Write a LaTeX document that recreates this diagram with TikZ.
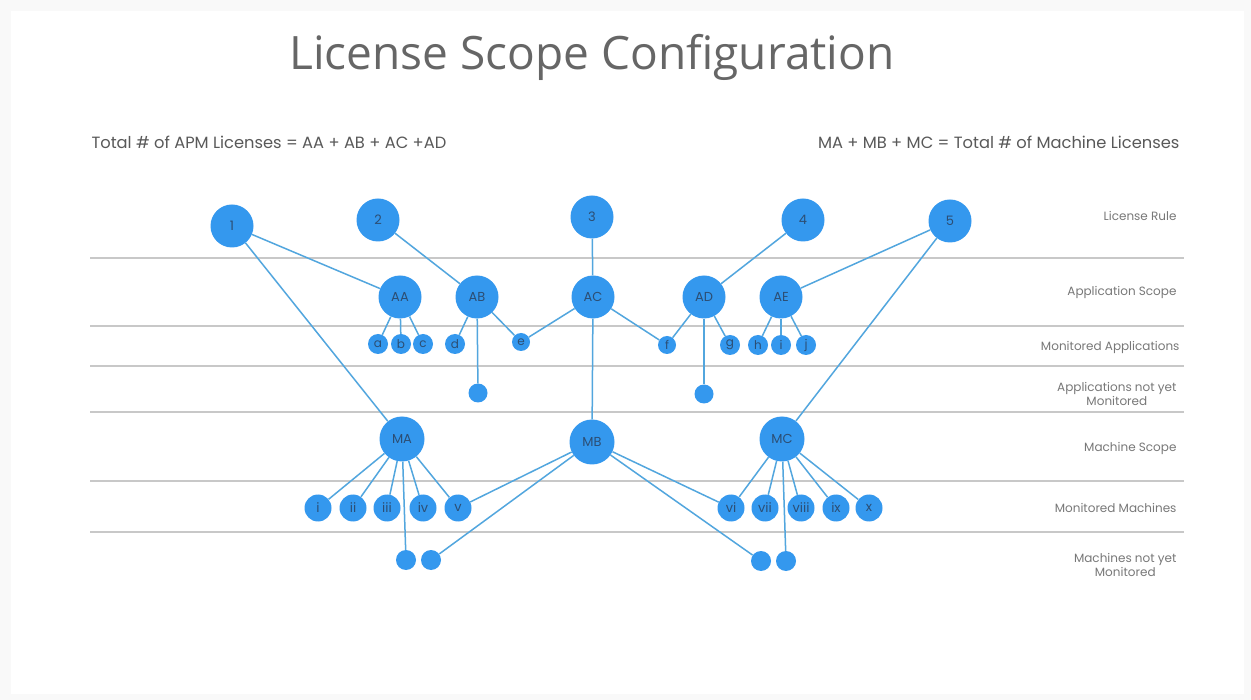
\documentclass[tikz,border=0pt]{standalone}
\usepackage{fontspec}
\setmainfont{Poppins}
\newfontfamily\titlefont{Open Sans}
\definecolor{nodeblue}{RGB}{52,152,238}
\definecolor{linkblue}{RGB}{82,166,222}
\definecolor{nodetext}{RGB}{44,78,116}
\definecolor{rowgray}{RGB}{200,200,200}
\definecolor{labelgray}{RGB}{120,120,120}
\newcommand{\px}[1]{\fontsize{#1}{#1}\selectfont}
\tikzset{
  blob/.style={circle,fill=nodeblue,inner sep=0pt,text=nodetext},
  rulenode/.style={blob,minimum size=43pt,font=\px{13}},
  scopenode/.style={blob,minimum size=43pt,font=\px{13}},
  appnode/.style={blob,minimum size=20pt,font=\px{12}},
  machnode/.style={blob,minimum size=27pt,font=\px{13}},
  waitnode/.style={blob,minimum size=20pt},
  link/.style={draw=linkblue,line width=1.5pt},
  rowlabel/.style={anchor=east,align=center,text=labelgray,font=\px{12}},
}
\begin{document}
\begin{tikzpicture}[x=1pt,y=-1pt]
\useasboundingbox (0,0) rectangle (1251,700);
\fill[gray!5] (0,0) rectangle (1251,700);
\fill[white] (11,11) rectangle (1244,694);
% title and totals
\node[text=black!60,font=\titlefont\px{46}] (title) at (592,57) {License Scope Configuration};
\node[anchor=west,text=black!65,font=\px{16.3}] (apmsum) at (88,142) {Total \# of APM Licenses = AA + AB + AC +AD};
\node[anchor=east,text=black!65,font=\px{16.3}] (machsum) at (1183,142) {MA + MB + MC = Total \# of Machine Licenses};
% rows
\draw[rowgray,line width=1.2pt] (90,258) -- (1184,258);
\draw[rowgray,line width=1.2pt] (90,326) -- (1184,326);
\draw[rowgray,line width=1.2pt] (90,366) -- (1184,366);
\draw[rowgray,line width=1.2pt] (90,412) -- (1184,412);
\draw[rowgray,line width=1.2pt] (90,481) -- (1184,481);
\draw[rowgray,line width=1.2pt] (90,532) -- (1184,532);
\node[rowlabel] (lrule) at (1180,216) {License Rule};
\node[rowlabel] (lappscope) at (1180,292) {Application Scope};
\node[rowlabel] (lmonapp) at (1183,347) {Monitored Applications};
\node[rowlabel] (lwaitapp) at (1180,394) {Applications not yet\\[1pt]Monitored};
\node[rowlabel] (lmachscope) at (1180,448) {Machine Scope};
\node[rowlabel] (lmonmach) at (1180,508) {Monitored Machines};
\node[rowlabel] (lwaitmach) at (1180,565) {Machines not yet\\[1pt]Monitored};
% license rules
\node[rulenode] (r1) at (232,226) {1};
\node[rulenode] (r2) at (378,220) {2};
\node[rulenode] (r3) at (592,217) {3};
\node[rulenode] (r4) at (803,220) {4};
\node[rulenode] (r5) at (950,221) {5};
% application scopes
\node[scopenode] (AA) at (400,297) {AA};
\node[scopenode] (AB) at (477,297) {AB};
\node[scopenode] (AC) at (593,297) {AC};
\node[scopenode] (AD) at (704,297) {AD};
\node[scopenode] (AE) at (781,297) {AE};
% monitored applications
\node[appnode] (a) at (378,344) {a};
\node[appnode] (b) at (401,344) {b};
\node[appnode] (c) at (423,344) {c};
\node[appnode] (d) at (455,344) {d};
\node[appnode,minimum size=18pt] (e) at (521,342) {e};
\node[appnode,minimum size=18pt] (f) at (667,345) {f};
\node[appnode] (g) at (730,345) {g};
\node[appnode] (h) at (758,345) {h};
\node[appnode] (i) at (781,345) {i};
\node[appnode] (j) at (806,345) {j};
% applications not yet monitored
\node[waitnode,minimum size=19pt] (wab) at (478,393) {};
\node[waitnode,minimum size=19pt] (wad) at (704,394) {};
% machine scopes
\node[scopenode,minimum size=45pt] (MA) at (402,439) {MA};
\node[scopenode,minimum size=45pt] (MB) at (592,442) {MB};
\node[scopenode,minimum size=45pt] (MC) at (782,439) {MC};
% monitored machines
\node[machnode] (mi) at (318,508) {i};
\node[machnode] (mii) at (353,508) {ii};
\node[machnode] (miii) at (387,508) {iii};
\node[machnode] (miv) at (423,508) {iv};
\node[machnode] (mv) at (458,508) {v};
\node[machnode] (mvi) at (731,508) {vi};
\node[machnode] (mvii) at (765,508) {vii};
\node[machnode] (mviii) at (801,508) {viii};
\node[machnode] (mix) at (836,508) {ix};
\node[machnode] (mx) at (869,508) {x};
% machines not yet monitored
\node[waitnode] (w1) at (406,560) {};
\node[waitnode] (w2) at (431,560) {};
\node[waitnode] (w3) at (761,561) {};
\node[waitnode] (w4) at (786,561) {};
% links
\draw[link] (r1) -- (AA);
\draw[link] (r1) -- (MA);
\draw[link] (r2) -- (AB);
\draw[link] (r3) -- (AC);
\draw[link] (r4) -- (AD);
\draw[link] (r5) -- (AE);
\draw[link] (r5) -- (MC);
\foreach \k in {a,b,c} \draw[link] (AA) -- (\k);
\foreach \k in {d,e,wab} \draw[link] (AB) -- (\k);
\foreach \k in {e,f,MB} \draw[link] (AC) -- (\k);
\foreach \k in {f,g,wad} \draw[link] (AD) -- (\k);
\foreach \k in {h,i,j} \draw[link] (AE) -- (\k);
\foreach \k in {mi,mii,miii,miv,mv,w1} \draw[link] (MA) -- (\k);
\foreach \k in {mv,w2,mvi,w3} \draw[link] (MB) -- (\k);
\foreach \k in {mvi,mvii,mviii,mix,mx,w4} \draw[link] (MC) -- (\k);
\end{tikzpicture}
\end{document}
